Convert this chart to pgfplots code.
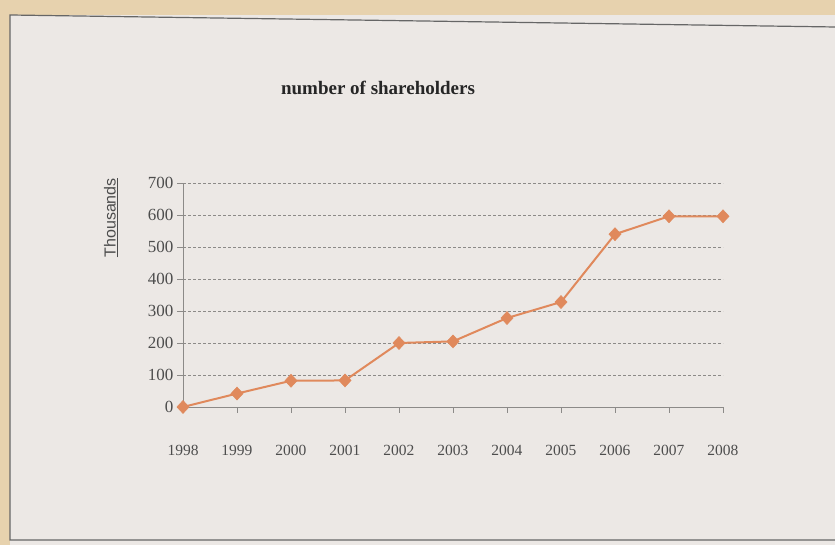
\documentclass[border=0pt]{standalone}
\usepackage{pgfplots}
\pgfplotsset{compat=1.18}
\usepackage{fontspec}
\setmainfont{Liberation Serif}
\newfontfamily\arialfont{Liberation Sans}

\definecolor{bgpanel}{HTML}{ECE8E5}
\definecolor{bgtan}{HTML}{E7D2AE}
\definecolor{linecol}{HTML}{E0895C}
\definecolor{gridcol}{HTML}{8C8A88}
\definecolor{textgray}{HTML}{4D4D4D}

\begin{document}
\begin{tikzpicture}
\useasboundingbox (0pt,0pt) rectangle (835pt,545pt);
% page and panel
\fill[bgtan] (0pt,0pt) rectangle (835pt,545pt);
\fill[bgpanel] (10pt,0pt) rectangle (835pt,530pt);
\draw[gray!80!black, line width=1.2pt] (835pt,518pt) -- (10pt,530pt) -- (10pt,5pt) -- (835pt,5pt);

% title and y label
\node[font=\bfseries\fontsize{19}{19}\selectfont, text=black!85] at (378pt,457pt) {number of shareholders};
\node[rotate=90, anchor=west, font=\arialfont\fontsize{16}{16}\selectfont, text=textgray]
  at (111pt,284pt) {\underline{Thousands}};

\begin{axis}[
  at={(183pt,138pt)}, anchor=south west,
  scale only axis, width=540pt, height=224pt,
  xmin=1998, xmax=2008, ymin=0, ymax=700,
  xtick={1998,...,2008}, ytick={0,100,...,700},
  axis lines=left,
  axis line style={-, draw=gridcol, line width=0.8pt},
  tick align=outside, major tick length=6pt,
  tick style={draw=gridcol, line width=0.8pt},
  ymajorgrids,
  major grid style={densely dashed, draw=gridcol, line width=0.6pt},
  /pgf/number format/1000 sep={},
  /pgf/number format/assume math mode=true,
  tick label style={text=textgray},
  xticklabel style={font=\fontsize{15.5}{15.5}\selectfont, yshift=-29pt},
  yticklabel style={font=\fontsize{17}{17}\selectfont},
  clip=false,
]
\addplot[linecol, line width=2pt, mark=diamond*,
  mark size=6.5pt, mark options={fill=linecol, draw=linecol, line width=0.5pt, xscale=1.25}]
  coordinates {
  (1998,0) (1999,42) (2000,82) (2001,83) (2002,200) (2003,205)
  (2004,278) (2005,328) (2006,540) (2007,596) (2008,596)
};
\end{axis}
\end{tikzpicture}
\end{document}
